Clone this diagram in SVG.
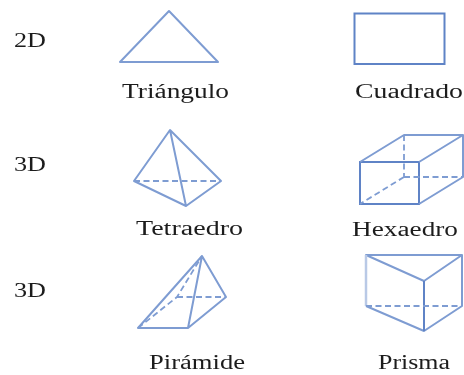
<svg xmlns="http://www.w3.org/2000/svg" width="464" height="375" viewBox="0 0 464 375">
<style>
.s{fill:none;stroke:#7e9cd2;stroke-width:2;stroke-linejoin:round}
.d{fill:none;stroke:#7e9cd2;stroke-width:1.8;stroke-dasharray:6 3.5}
.e{fill:none;stroke:#5f83c6;stroke-width:2}
text{font-family:"Liberation Serif","Times New Roman",serif;font-size:20px;fill:#1c1c1c}
</style>
<defs><filter id="b" x="-5%" y="-5%" width="110%" height="110%"><feGaussianBlur stdDeviation="0.4"/></filter></defs>
<rect width="464" height="375" fill="#fff"/>
<g filter="url(#b)">
<g id="label-2d"><text x="14" y="47" textLength="32" lengthAdjust="spacingAndGlyphs">2D</text></g>
<g id="label-3d-a"><text x="14" y="171" textLength="32" lengthAdjust="spacingAndGlyphs">3D</text></g>
<g id="label-3d-b"><text x="14" y="297" textLength="32" lengthAdjust="spacingAndGlyphs">3D</text></g>
<g id="triangulo">
<path class="s" d="M169 11L218 62H120Z"/>
<text x="122" y="98" textLength="107" lengthAdjust="spacingAndGlyphs">Triángulo</text>
</g>
<g id="cuadrado">
<rect class="e" x="354.5" y="13.500" width="90" height="50.500"/>
<text x="355" y="98" textLength="108" lengthAdjust="spacingAndGlyphs">Cuadrado</text>
</g>
<g id="tetraedro">
<path class="s" d="M134 181L170 130L221 181L186 206ZM170 130L186 206"/>
<path class="d" d="M134 181H221"/>
<text x="136" y="235" textLength="107" lengthAdjust="spacingAndGlyphs">Tetraedro</text>
</g>
<g id="hexaedro">
<rect class="e" x="360" y="162" width="59" height="42"/>
<path class="s" d="M360 162L404 135H463V177L419 204M419 162L463 135"/>
<path class="d" d="M404 135V177M404 177L360 204M404 177H463"/>
<text x="352" y="236" textLength="106" lengthAdjust="spacingAndGlyphs">Hexaedro</text>
</g>
<g id="piramide">
<path class="s" d="M138 328L202 256L226 297L188 328ZM202 256L188 328"/>
<path class="d" d="M138 328L177 297L202 256M177 297H226"/>
<text x="149" y="369" textLength="96" lengthAdjust="spacingAndGlyphs">Pirámide</text>
</g>
<g id="prisma">
<path class="s" d="M366 255H462L424 281ZM462 255V306L424 331L366 306"/>
<path stroke="#b9c9e6" stroke-width="2.500" fill="none" d="M366 255V306"/>
<path class="e" d="M424 281V331"/>
<path class="d" d="M366 306H462"/>
<text x="378" y="369" textLength="72" lengthAdjust="spacingAndGlyphs">Prisma</text>
</g>
</g>
</svg>
